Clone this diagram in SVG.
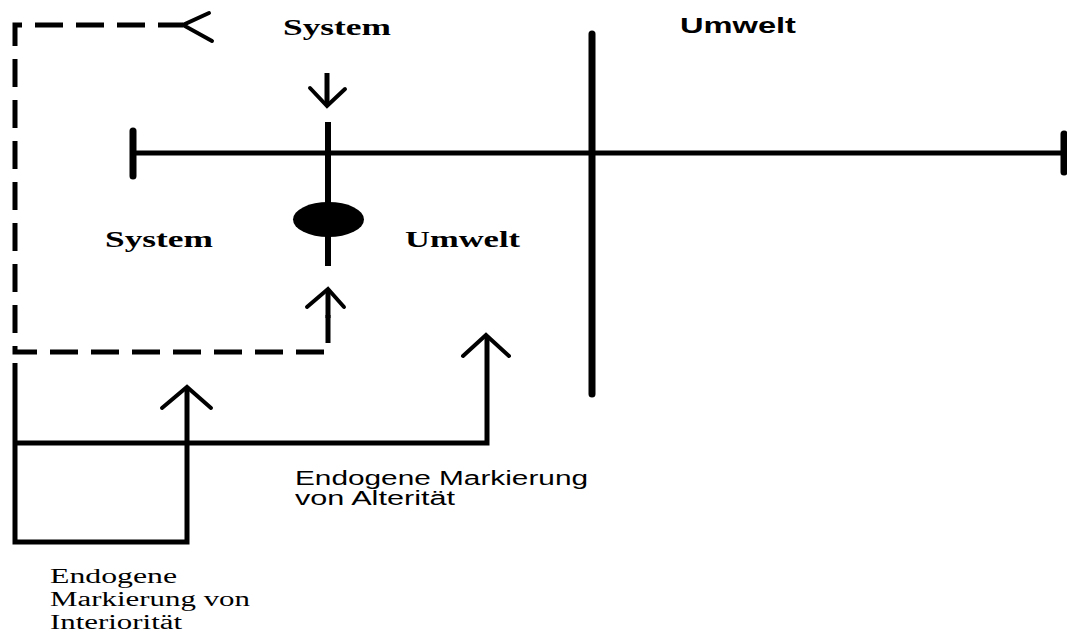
<svg xmlns="http://www.w3.org/2000/svg" width="1067" height="634" viewBox="0 0 1067 634">
<style>
.bg{fill:#ffffff}
.ln{fill:none;stroke:#000;stroke-width:5;stroke-linecap:butt;stroke-linejoin:miter}
.thick{stroke-width:7;stroke-linecap:round}
.dash{stroke-dasharray:28 13}
.ah{fill:none;stroke:#000;stroke-width:4;stroke-linecap:round;stroke-linejoin:miter}
.tb{font-family:"Liberation Serif","Times New Roman",serif;font-weight:bold;font-size:24px;fill:#000}
.ab{font-family:"Liberation Sans",Arial,sans-serif;font-weight:bold;font-size:22px;fill:#000}
.ar{font-family:"Liberation Sans",Arial,sans-serif;font-size:20px;fill:#000}
.tr{font-family:"Liberation Serif","Times New Roman",serif;font-size:20px;fill:#000}
</style>
<rect class="bg" x="0" y="0" width="1067" height="634"/>
<g id="axis">
<line class="ln" x1="133" y1="153" x2="1064" y2="153"/>
<line class="ln thick" x1="133" y1="131" x2="133" y2="176"/>
<line class="ln thick" x1="1064" y1="134" x2="1064" y2="172"/>
<line class="ln thick" x1="592" y1="34" x2="592" y2="394"/>
</g>
<g id="boundary">
<line class="ln" x1="328" y1="122" x2="328" y2="266" style="stroke-width:6"/>
<ellipse cx="328.5" cy="219.5" rx="35.5" ry="17.5" fill="#000"/>
</g>
<g id="connectors">
<path class="ln dash" d="M328,315 L328,352 L15,352 L15,25 L183,25"/>
<line class="ln" x1="328" y1="290" x2="328" y2="318"/>
<polyline class="ah" points="307,307 328,289 344,307"/>
<polyline class="ah" points="209,13 183,25 212,41"/>
<line class="ln" x1="327" y1="73" x2="327" y2="104"/>
<polyline class="ah" points="310,88 327,106 345,89"/>
<path class="ln" d="M15,363 L15,542 L187,542 L187,388"/>
<polyline class="ah" points="162,408 187,387 211,408"/>
<path class="ln" d="M15,443 L487,443 L487,337"/>
<polyline class="ah" points="463,356 486,335 509,356"/>
</g>
<g id="label-system-top"><text class="tb" x="283" y="35" textLength="108" lengthAdjust="spacingAndGlyphs">System</text></g>
<g id="label-umwelt-top"><text class="ab" x="680" y="33" textLength="116" lengthAdjust="spacingAndGlyphs">Umwelt</text></g>
<g id="label-system-mid"><text class="tb" x="105" y="247" textLength="108" lengthAdjust="spacingAndGlyphs">System</text></g>
<g id="label-umwelt-mid"><text class="tb" x="405" y="247" textLength="115" lengthAdjust="spacingAndGlyphs">Umwelt</text></g>
<g id="label-alteritaet">
<text class="ar" x="295" y="485" textLength="293" lengthAdjust="spacingAndGlyphs">Endogene Markierung</text>
<text class="ar" x="295" y="505" textLength="160" lengthAdjust="spacingAndGlyphs">von Alterität</text>
</g>
<g id="label-interioritaet">
<text class="tr" x="50" y="583" textLength="127" lengthAdjust="spacingAndGlyphs">Endogene</text>
<text class="tr" x="50" y="606" textLength="200" lengthAdjust="spacingAndGlyphs">Markierung von</text>
<text class="tr" x="50" y="629" textLength="132" lengthAdjust="spacingAndGlyphs">Interiorität</text>
</g>
</svg>
